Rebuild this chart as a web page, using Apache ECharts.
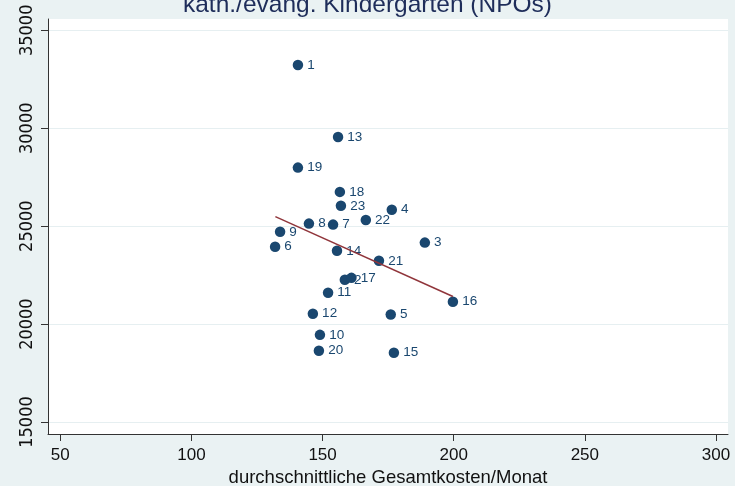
<!DOCTYPE html>
<html>
<head>
<meta charset="utf-8">
<script src="https://cdn.jsdelivr.net/npm/echarts@6/dist/echarts.min.js"></script>
<style>
html,body{margin:0;padding:0;background:#EAF2F3;}
#chart{width:735px;height:486px;}
</style>
</head>
<body>
<div id="chart"></div>
<script>
const pointIds = ['1','13','19','18','23','4','22','8','7','9','6','14','3','21','2','17','11','16','12','5','10','20','15'];
const costX =   [140.6,155.9,140.6,156.6,157.0,176.4,166.5,144.8,154.0,133.8,131.9,155.5,189.0,171.5,158.5,161.0,152.1,199.7,146.3,176.0,149.0,148.6,177.2];
const valueY =  [33230,29556,27990,26750,26040,25840,25310,25130,25080,24710,23950,23740,24160,23230,22260,22360,21600,21140,20530,20490,19450,18640,18540];
const xTicks = [50,100,150,200,250,300];
const yTicks = [15000,20000,25000,30000,35000];
const fitLine = [[132.0,25490],[199.7,21408]];

const points = pointIds.map((id,i)=>({name:id, value:[costX[i], valueY[i]]}));
const FONT = 'Liberation Sans, Arial, sans-serif';
const NARROW = 'Liberation Sans Narrow, Arial Narrow, DejaVu Sans Condensed, sans-serif';

const chart = echarts.init(document.getElementById('chart'));
chart.setOption({
  backgroundColor:'#EAF2F3',
  animation:false,
  title:{
    text:'kath./evang. Kindergarten (NPOs)',
    left:'center', top:-12,
    textStyle:{fontFamily:FONT, fontSize:24.5, fontWeight:'normal', color:'#1e2d5a'}
  },
  grid:{left:48, top:19, right:7, bottom:52, show:true, backgroundColor:'#ffffff', borderWidth:0, containLabel:false, outerBoundsMode:'none'},
  xAxis:{
    type:'value', min:45.3, max:304.6,
    name:'durchschnittliche Gesamtkosten/Monat', nameLocation:'middle', nameGap:31,
    nameTextStyle:{fontFamily:FONT, fontSize:18.5, color:'#111'},
    axisLine:{show:true, onZero:false, lineStyle:{color:'#333', width:1}},
    axisTick:{show:true, length:7, customValues:xTicks, lineStyle:{color:'#333'}},
    axisLabel:{customValues:xTicks, fontFamily:FONT, fontSize:17, color:'#111', margin:13},
    splitLine:{show:false}
  },
  yAxis:{
    type:'value', min:14388, max:35577,
    axisLine:{show:true, onZero:false, lineStyle:{color:'#333', width:1}},
    axisTick:{show:true, length:7, customValues:yTicks, lineStyle:{color:'#333'}},
    axisLabel:{customValues:yTicks, formatter:v=>String(v), rotate:90, fontFamily:NARROW, fontSize:18, color:'#111', margin:12},
    splitLine:{show:true, lineStyle:{color:'#E6EFF1', width:1.2}}
  },
  series:[
    {
      type:'scatter', data:points, symbolSize:10.5,
      itemStyle:{color:'#1a476f', opacity:1},
      label:{show:true, position:'right', distance:4, formatter:p=>p.name,
        fontFamily:FONT, fontSize:13.5, color:'#1a476f'},
      z:2
    },
    {
      type:'line', data:fitLine, showSymbol:false, symbol:'none',
      lineStyle:{color:'#90353b', width:1.5}, z:3
    }
  ]
});
</script>
</body>
</html>
